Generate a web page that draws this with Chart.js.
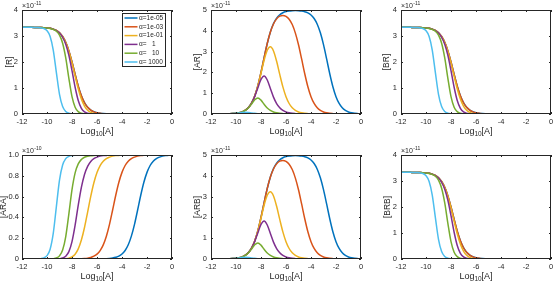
<!DOCTYPE html>
<html><head><meta charset="utf-8">
<script src="https://cdn.jsdelivr.net/npm/chart.js@4.4.1/dist/chart.umd.min.js"></script>
<style>
html,body{margin:0;padding:0;background:#fff;width:553px;height:283px;overflow:hidden;position:relative}
canvas{position:absolute;left:0;top:0}
</style></head><body>
<canvas id="c1" width="600" height="300"></canvas>
<canvas id="c2" width="600" height="300"></canvas>
<canvas id="c3" width="600" height="300"></canvas>
<canvas id="c4" width="600" height="300"></canvas>
<canvas id="c5" width="600" height="300"></canvas>
<canvas id="c6" width="600" height="300"></canvas>
<script>
// log10[A] grid shared by every curve
var logA=[-12,-11.75,-11.5,-11.25,-11,-10.75,-10.5,-10.25,
  -10,-9.75,-9.5,-9.25,-9,-8.75,-8.5,-8.25,
  -8,-7.75,-7.5,-7.25,-7,-6.75,-6.5,-6.25,
  -6,-5.75,-5.5,-5.25,-5,-4.75,-4.5,-4.25,
  -4,-3.75,-3.5,-3.25,-3,-2.75,-2.5,-2.25,
  -2,-1.75,-1.5,-1.25,-1,-0.75,-0.5,-0.25,0];
var alphaLabels=['\u03b1=1e-05','\u03b1=1e-03','\u03b1=1e-01','\u03b1=   1','\u03b1=   10','\u03b1= 1000'];
var colors=['#0072BD','#D95319','#EDB120','#7E2F8E','#77AC30','#4DBEEE'];

// [R] (x1e-11), same shape read for [BR] and [BRB]
var r1e5=[3.333,3.333,3.333,3.332,3.331,3.329,3.326,3.321,
  3.311,3.294,3.265,3.213,3.125,2.980,2.753,2.424,
  2.000,1.525,1.072,0.702,0.435,0.259,0.151,0.087,
  0.049,0.028,0.016,0.009,0.005,0.003,0.002,0.001,
  0,0,0,0,0,0,0,0, 0,0,0,0,0,0,0,0, 0];
var r1e3=[3.333,3.333,3.333,3.332,3.331,3.329,3.326,3.321,
  3.311,3.294,3.265,3.213,3.125,2.980,2.753,2.424,
  2.000,1.525,1.071,0.700,0.433,0.257,0.149,0.084,
  0.047,0.026,0.014,0.007,0.003,0.001,0,0,
  0,0,0,0,0,0,0,0, 0,0,0,0,0,0,0,0, 0];
var r1e1=[3.333,3.333,3.333,3.332,3.331,3.329,3.326,3.321,
  3.311,3.294,3.265,3.213,3.124,2.977,2.745,2.406,
  1.961,1.455,0.969,0.574,0.303,0.143,0.060,0.023,
  0.008,0.003,0.001,0,0,0,0,0,
  0,0,0,0,0,0,0,0, 0,0,0,0,0,0,0,0, 0];
var r1=[3.333,3.333,3.333,3.332,3.331,3.329,3.326,3.321,
  3.311,3.294,3.263,3.210,3.115,2.952,2.679,2.252,
  1.667,1.029,0.518,0.218,0.081,0.028,0.009,0.003,
  0.001,0,0,0,0,0,0,0,
  0,0,0,0,0,0,0,0, 0,0,0,0,0,0,0,0, 0];
var r10=[3.333,3.333,3.333,3.332,3.331,3.329,3.326,3.321,
  3.310,3.291,3.254,3.181,3.030,2.723,2.159,1.372,
  0.667,0.262,0.092,0.030,0.010,0.003,0.001,0,
  0,0,0,0,0,0,0,0,
  0,0,0,0,0,0,0,0, 0,0,0,0,0,0,0,0, 0];
var r1000=[3.333,3.333,3.333,3.332,3.330,3.326,3.315,3.286,
  3.205,2.983,2.461,1.594,0.758,0.286,0.097,0.031,
  0.010,0.003,0.001,0,0,0,0,0,
  0,0,0,0,0,0,0,0,
  0,0,0,0,0,0,0,0, 0,0,0,0,0,0,0,0, 0];

// [AR] (x1e-11), same shape read for [ARB]
var ar1e5=[0,0.001,0.001,0.002,0.003,0.006,0.011,0.019,
  0.033,0.059,0.103,0.181,0.313,0.530,0.871,1.363,
  2.000,2.712,3.391,3.947,4.348,4.611,4.772,4.869,
  4.924,4.954,4.969,4.973,4.968,4.952,4.920,4.862,
  4.761,4.591,4.317,3.903,3.333,2.647,1.937,1.312,
  0.833,0.506,0.297,0.172,0.098,0.056,0.031,0.018, 0.010];
var ar1e3=[0,0.001,0.001,0.002,0.003,0.006,0.011,0.019,
  0.033,0.059,0.103,0.181,0.313,0.530,0.871,1.363,
  2.000,2.711,3.387,3.938,4.329,4.574,4.702,4.740,
  4.695,4.557,4.300,3.887,3.330,2.646,1.937,1.312,
  0.833,0.506,0.297,0.172,0.098,0.056,0.031,0.018,
  0.010,0.006,0.003,0.002,0.001,0,0,0, 0];
var ar1e1=[0,0.001,0.001,0.002,0.003,0.006,0.011,0.019,
  0.033,0.059,0.103,0.181,0.312,0.529,0.868,1.353,
  1.961,2.587,3.063,3.230,3.030,2.534,1.902,1.303,
  0.831,0.505,0.297,0.172,0.098,0.056,0.031,0.018,
  0.010,0.006,0.003,0.002,0.001,0,0,0,
  0,0,0,0,0,0,0,0, 0];
var ar1=[0,0.001,0.001,0.002,0.003,0.006,0.011,0.019,
  0.033,0.059,0.103,0.180,0.312,0.525,0.847,1.266,
  1.667,1.830,1.636,1.226,0.813,0.501,0.297,0.172,
  0.098,0.056,0.031,0.018,0.010,0.006,0.003,0.002,
  0.001,0,0,0,0,0,0,0,
  0,0,0,0,0,0,0,0, 0];
var ar10=[0,0.001,0.001,0.002,0.003,0.006,0.011,0.019,
  0.033,0.059,0.103,0.179,0.303,0.484,0.683,0.772,
  0.667,0.466,0.289,0.170,0.098,0.056,0.031,0.018,
  0.010,0.006,0.003,0.002,0.001,0,0,0,
  0,0,0,0,0,0,0,0,
  0,0,0,0,0,0,0,0, 0];
var ar1000=[0,0.001,0.001,0.002,0.003,0.006,0.011,0.019,
  0.032,0.053,0.078,0.090,0.076,0.051,0.031,0.018,
  0.010,0.006,0.003,0.002,0.001,0,0,0,
  0,0,0,0,0,0,0,0,
  0,0,0,0,0,0,0,0,
  0,0,0,0,0,0,0,0, 0];

// [ARA] (x1e-10)
var ara1e5=[0,0,0,0,0,0,0,0, 0,0,0,0,0,0,0,0, 0,0,0,0,0,0,0,0,
  0.001,0.001,0.002,0.003,0.005,0.009,0.016,0.027,
  0.048,0.082,0.137,0.220,0.333,0.471,0.613,0.738,
  0.833,0.899,0.941,0.966,0.980,0.989,0.994,0.997, 0.998];
var ara1e3=[0,0,0,0,0,0,0,0, 0,0,0,0,0,0,0,0,
  0,0.001,0.001,0.002,0.004,0.008,0.015,0.027,
  0.047,0.081,0.136,0.219,0.333,0.471,0.613,0.738,
  0.833,0.899,0.941,0.966,0.980,0.989,0.994,0.997,
  0.998,0.999,1,1,1,1,1,1, 1];
var ara1e1=[0,0,0,0,0,0,0,0,
  0,0,0,0,0,0.001,0.003,0.008,
  0.020,0.046,0.097,0.182,0.303,0.451,0.602,0.733,
  0.831,0.898,0.940,0.966,0.980,0.989,0.994,0.996,
  0.998,0.999,1,1,1,1,1,1,
  1,1,1,1,1,1,1,1, 1];
var ara1=[0,0,0,0,0,0,0,0,
  0,0,0,0.001,0.003,0.009,0.027,0.071,
  0.167,0.325,0.518,0.689,0.813,0.891,0.938,0.965,
  0.980,0.989,0.994,0.996,0.998,0.999,1,1,
  1,1,1,1,1,1,1,1,
  1,1,1,1,1,1,1,1, 1];
var ara10=[0,0,0,0,0,0,0,0,
  0,0.001,0.003,0.010,0.030,0.086,0.216,0.434,
  0.667,0.828,0.915,0.957,0.978,0.988,0.993,0.996,
  0.998,0.999,1,1,1,1,1,1,
  1,1,1,1,1,1,1,1,
  1,1,1,1,1,1,1,1, 1];
var ara1000=[0,0,0,0,0,0.001,0.003,0.010,
  0.032,0.094,0.246,0.504,0.758,0.904,0.965,0.987,
  0.995,0.998,0.999,1,1,1,1,1,
  1,1,1,1,1,1,1,1,
  1,1,1,1,1,1,1,1,
  1,1,1,1,1,1,1,1, 1];

var rSeries=[r1e5,r1e3,r1e1,r1,r10,r1000];
var arSeries=[ar1e5,ar1e3,ar1e1,ar1,ar10,ar1000];
var araSeries=[ara1e5,ara1e3,ara1e1,ara1,ara10,ara1000];

var FONT='"Liberation Sans", Arial, sans-serif';
var INK='#262626';

var panels=[
  {id:'c1',box:[22,10,172,114],ymax:4,ystep:1,ytitle:'[R]',exp:'-11',series:rSeries,legend:true,ytx:-12},
  {id:'c2',box:[211,10,361,114],ymax:5,ystep:1,ytitle:'[AR]',exp:'-11',series:arSeries,ytx:-13},
  {id:'c3',box:[401,10,551,114],ymax:4,ystep:1,ytitle:'[BR]',exp:'-11',series:rSeries,ytx:-14},
  {id:'c4',box:[22,155,172,259],ymax:1,ystep:0.2,ytitle:'[ARA]',exp:'-10',series:araSeries,ytx:-18,tpad:3},
  {id:'c5',box:[211,155,361,259],ymax:5,ystep:1,ytitle:'[ARB]',exp:'-11',series:arSeries,ytx:-13},
  {id:'c6',box:[401,155,551,259],ymax:4,ystep:1,ytitle:'[BRB]',exp:'-11',series:rSeries,ytx:-13.5}
];

// box, inward ticks, titles, exponent and legend in MATLAB style
var matlabAxes={id:'matlabAxes',afterDraw:function(chart,args,o){
  var ctx=chart.ctx,a=chart.chartArea,sx=chart.scales.x,sy=chart.scales.y;
  ctx.save();
  ctx.strokeStyle=INK;ctx.lineWidth=1;
  ctx.strokeRect(a.left+0.5,a.top+0.5,a.right-a.left-1,a.bottom-a.top-1);
  ctx.beginPath();
  sx.ticks.forEach(function(t){
    var p=Math.round(sx.getPixelForValue(t.value))+0.5;
    ctx.moveTo(p,a.bottom);ctx.lineTo(p,a.bottom-2);
    ctx.moveTo(p,a.top);ctx.lineTo(p,a.top+2);
  });
  sy.ticks.forEach(function(t){
    var p=Math.round(sy.getPixelForValue(t.value))+0.5;
    ctx.moveTo(a.left,p);ctx.lineTo(a.left+2,p);
    ctx.moveTo(a.right,p);ctx.lineTo(a.right-2,p);
  });
  ctx.stroke();
  ctx.fillStyle=INK;
  // exponent
  ctx.textAlign='left';ctx.textBaseline='alphabetic';
  ctx.font='7px '+FONT;
  ctx.fillText('\u00d710',a.left,a.top-2.5);
  var w=ctx.measureText('\u00d710').width;
  ctx.font='5px '+FONT;
  ctx.fillText(o.exp,a.left+w+0.5,a.top-5.5);
  // x title Log10[A]
  var cx=(a.left+a.right)/2,by=a.bottom+19.5;
  ctx.font='9px '+FONT;
  var w1=ctx.measureText('Log').width,w3=ctx.measureText('[A]').width;
  ctx.font='6.5px '+FONT;
  var w2=ctx.measureText('10').width;
  var sx0=cx-(w1+w2+w3)/2;
  ctx.font='9px '+FONT;
  ctx.fillText('Log',sx0,by);
  ctx.fillText('[A]',sx0+w1+w2,by);
  ctx.font='6.5px '+FONT;
  ctx.fillText('10',sx0+w1,by+2.5);
  // y title
  ctx.save();
  ctx.translate(a.left+o.ytx,(a.top+a.bottom)/2);
  ctx.rotate(-Math.PI/2);
  ctx.textAlign='center';ctx.textBaseline='middle';
  ctx.font='8.5px '+FONT;
  ctx.fillText(o.ytitle,0,0);
  ctx.restore();
  // legend
  if(o.legend){
    var lx=a.right-49.5,ly=a.top+3.5,lw=43,lh=53;
    ctx.fillStyle='#fff';ctx.fillRect(lx,ly,lw,lh);
    ctx.strokeStyle=INK;ctx.lineWidth=1;ctx.strokeRect(lx,ly,lw,lh);
    ctx.font='6.5px '+FONT;ctx.textBaseline='middle';ctx.textAlign='left';
    chart.data.datasets.forEach(function(ds,i){
      var yy=ly+4.5+i*8.8;
      ctx.strokeStyle=ds.borderColor;ctx.lineWidth=1.5;
      ctx.beginPath();ctx.moveTo(lx+2,yy);ctx.lineTo(lx+15,yy);ctx.stroke();
      ctx.fillStyle=INK;
      ctx.fillText(ds.label,lx+16.5,yy);
    });
  }
  ctx.restore();
}};

function mkData(ys){
  var d=[];
  for(var i=0;i<logA.length;i++) d.push({x:logA[i],y:ys[i]});
  return d;
}

var YW=20,XH=14;
panels.forEach(function(p){
  var ds=[];
  for(var i=0;i<p.series.length;i++){
    ds.push({label:alphaLabels[i],data:mkData(p.series[i]),borderColor:colors[i],
      borderWidth:1.5,pointRadius:0,fill:false,cubicInterpolationMode:'monotone',order:5-i});
  }
  var tickFont={family:FONT,size:7.5};
  new Chart(document.getElementById(p.id),{
    type:'line',
    data:{datasets:ds},
    plugins:[matlabAxes],
    options:{responsive:false,animation:false,events:[],
      layout:{padding:{left:p.box[0]-YW,top:p.box[1],right:600-p.box[2],bottom:300-p.box[3]-XH}},
      plugins:{legend:{display:false},tooltip:{enabled:false},
        matlabAxes:{ytitle:p.ytitle,exp:p.exp,legend:!!p.legend,ytx:p.ytx}},
      scales:{
        x:{type:'linear',min:-12,max:0,
          ticks:{stepSize:2,color:INK,font:tickFont,padding:3,maxRotation:0},
          grid:{display:false,drawTicks:false},border:{display:false},
          afterFit:function(s){s.height=XH;}},
        y:{min:0,max:p.ymax,
          ticks:{stepSize:p.ystep,color:INK,font:tickFont,padding:p.tpad||4},
          grid:{display:false,drawTicks:false},border:{display:false},
          afterFit:function(s){s.width=YW;}}
      }}
  });
});
</script>
</body></html>
